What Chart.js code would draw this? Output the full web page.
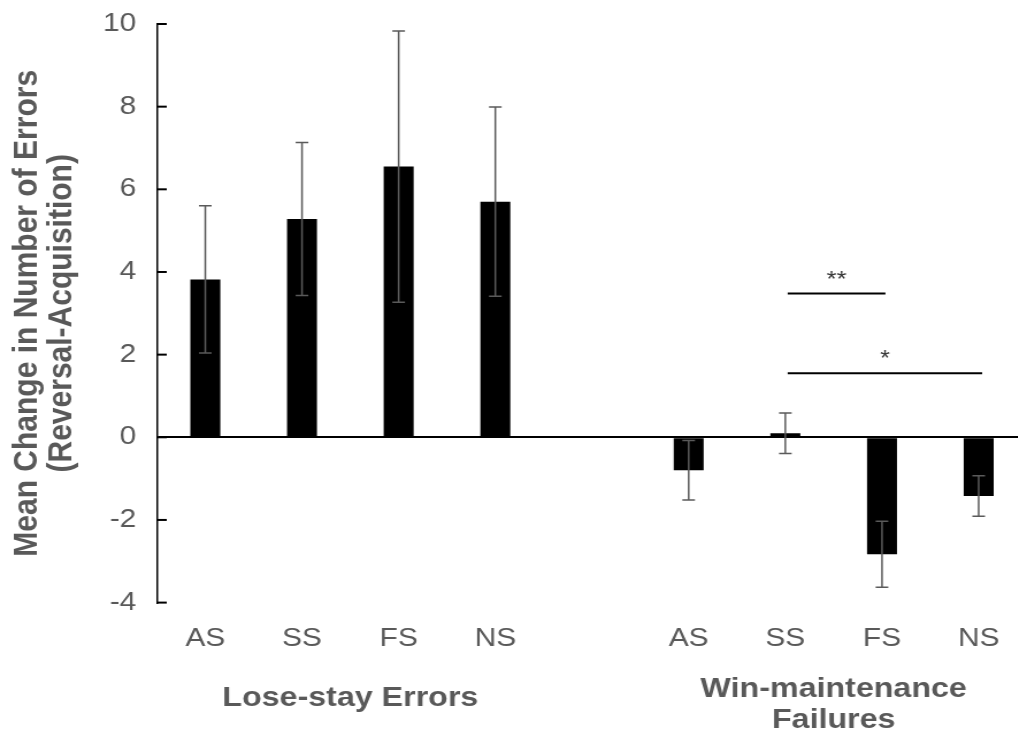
<!DOCTYPE html>
<html>
<head>
<meta charset="utf-8">
<script src="https://cdn.jsdelivr.net/npm/chart.js@4/dist/chart.umd.min.js"></script>
<style>
    html, body { margin: 0; padding: 0; background: #fff; overflow: hidden; }
    #grafico { display: block; }
</style>
</head>
<body>
<!-- o original está esticado na horizontal: canvas mais estreito, esticado pelo CSS;
     a última faixa passa um pouco da borda da janela, como no original -->
<canvas id="grafico" width="893" height="737" style="width:1027px;height:737px"></canvas>
<script>
const categorias = ['AS', 'SS', 'FS', 'NS', '', 'AS', 'SS', 'FS', 'NS'];
const medias = [3.82, 5.28, 6.55, 5.70, null, -0.80, 0.10, -2.83, -1.42];
const erros = [1.78, 1.85, 3.28, 2.29, null, 0.72, 0.49, 0.80, 0.49];
const yTicks = [-4, -2, 0, 2, 4, 6, 8, 10];

const grupos = [['Lose-stay Errors'], ['Win-maintenance', 'Failures']];
const gruposInicio = [0, 5];
const gruposFim = [3, 8];

const sigDe = [6, 6];
const sigAte = [7, 8];
const sigAltura = [3.48, 1.55];
const sigTexto = ['**', '*'];

const cinza = '#595959';
const fonte = '"Liberation Sans", Arial, sans-serif';

// Barras de erro, marcas internas do eixo, rótulos dos grupos e significância
const extras = {
    id: 'extras',
    afterDatasetsDraw(chart) {
        const { ctx, chartArea } = chart;
        const x = chart.scales.x;
        const y = chart.scales.y;
        ctx.save();

        ctx.strokeStyle = '#000';
        ctx.lineWidth = 2;
        yTicks.forEach(v => {
            const py = y.getPixelForValue(v);
            ctx.beginPath();
            ctx.moveTo(chartArea.left, py);
            ctx.lineTo(chartArea.left + 8.5, py);
            ctx.stroke();
        });

        ctx.strokeStyle = '#5a5a5a';
        ctx.lineWidth = 1.5;
        medias.forEach((m, i) => {
            if (m === null) return;
            const px = x.getPixelForValue(i);
            const topo = y.getPixelForValue(m + erros[i]);
            const base = y.getPixelForValue(m - erros[i]);
            ctx.beginPath();
            ctx.moveTo(px, topo); ctx.lineTo(px, base);
            ctx.moveTo(px - 5.5, topo); ctx.lineTo(px + 5.5, topo);
            ctx.moveTo(px - 5.5, base); ctx.lineTo(px + 5.5, base);
            ctx.stroke();
        });

        // linhas de significância
        ctx.strokeStyle = '#000';
        ctx.lineWidth = 2;
        ctx.fillStyle = '#333';
        ctx.font = '22px ' + fonte;
        ctx.textAlign = 'center';
        ctx.textBaseline = 'middle';
        sigDe.forEach((de, i) => {
            const x1 = x.getPixelForValue(de) + 2;
            const x2 = x.getPixelForValue(sigAte[i]) + 3;
            const py = y.getPixelForValue(sigAltura[i]);
            ctx.beginPath();
            ctx.moveTo(x1, py); ctx.lineTo(x2, py);
            ctx.stroke();
            ctx.fillText(sigTexto[i], (x1 + x2) / 2, py - 14);
        });

        // nomes dos grupos
        ctx.fillStyle = cinza;
        ctx.font = 'bold 28px ' + fonte;
        grupos.forEach((linhas, g) => {
            const cx = (x.getPixelForValue(gruposInicio[g]) + x.getPixelForValue(gruposFim[g])) / 2;
            let py = chartArea.bottom + (linhas.length === 1 ? 96 : 87);
            linhas.forEach(txt => {
                ctx.fillText(txt, cx, py);
                py += 31;
            });
        });

        ctx.restore();
    }
};

const ctx = document.getElementById('grafico').getContext('2d');
const chart = new Chart(ctx, {
    type: 'bar',
    data: {
        labels: categorias,
        datasets: [{
            data: medias,
            backgroundColor: '#000',
            borderWidth: 0,
            barPercentage: 0.31,
            categoryPercentage: 1
        }]
    },
    options: {
        responsive: false,
        maintainAspectRatio: false,
        devicePixelRatio: 1,
        animation: false,
        events: [],
        layout: { padding: { top: 24, right: 0, left: 0, bottom: 0 } },
        plugins: {
            legend: { display: false },
            tooltip: { enabled: false }
        },
        scales: {
            x: {
                grid: { display: false },
                border: { display: false },
                ticks: {
                    color: cinza,
                    font: { family: fonte, size: 26 },
                    padding: 13,
                    autoSkip: false,
                    maxRotation: 0
                },
                afterFit: s => {
                    s.height = 134.4;
                    s.paddingLeft = 0;
                    s.paddingRight = 0;
                }
            },
            y: {
                min: -4,
                max: 10,
                afterBuildTicks: s => { s.ticks = yTicks.map(v => ({ value: v })); },
                grid: {
                    drawTicks: false,
                    color: c => (c.tick && c.tick.value === 0) ? '#000' : 'rgba(0,0,0,0)',
                    lineWidth: 2
                },
                border: { color: '#000', width: 1.5 },
                ticks: {
                    color: cinza,
                    font: { family: fonte, size: 26 },
                    padding: 18
                },
                title: {
                    display: true,
                    text: ['Mean Change in Number of Errors', '(Reversal-Acquisition)'],
                    color: cinza,
                    font: { family: fonte, size: 30, weight: 'bold', lineHeight: 1.01 },
                    padding: { top: 8.2, bottom: 0 }
                },
                afterFit: s => {
                    s.width = 136.5;
                    s.paddingTop = 0;
                    s.paddingBottom = 0;
                }
            }
        }
    },
    plugins: [extras]
});
</script>
</body>
</html>
